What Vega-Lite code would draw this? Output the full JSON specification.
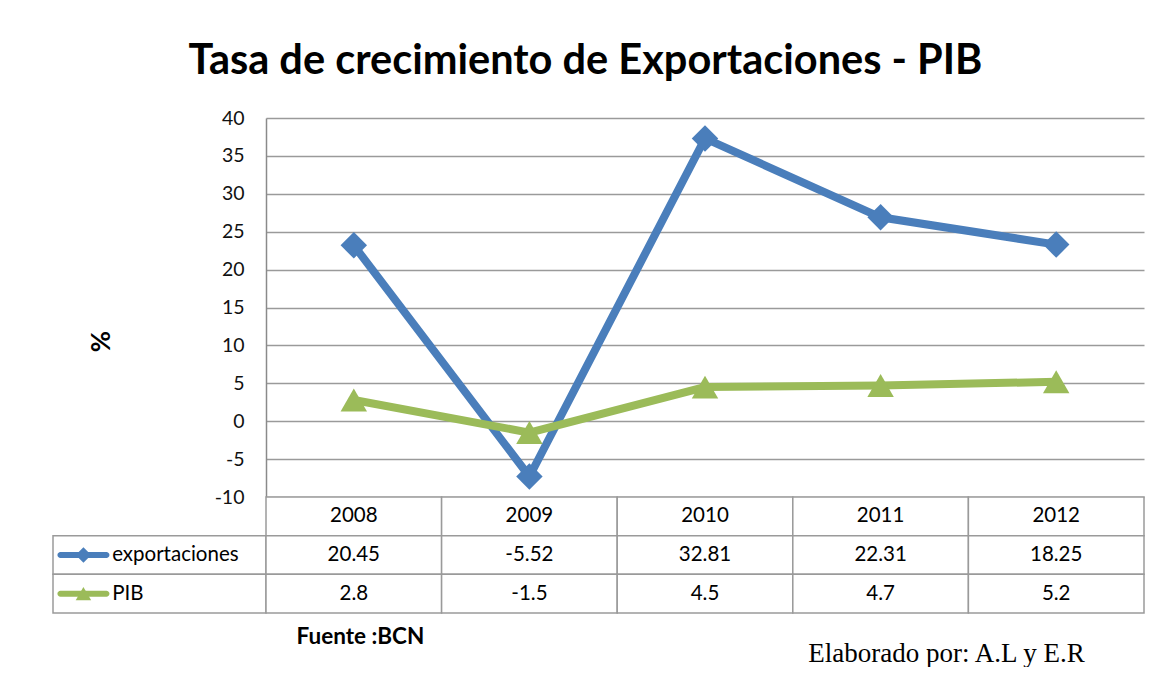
{
  "$schema": "https://vega.github.io/schema/vega-lite/v6.json",
  "autosize": {"type": "pad"},
  "padding": {"left": 52, "top": 40, "right": 13, "bottom": 0},
  "background": "white",
  "config": {"font": "Lato", "view": {"stroke": null}},
  "title": {"text": "Tasa de crecimiento de Exportaciones - PIB", "fontSize": 41.5, "font": "Lato", "fontWeight": "bold", "color": "black", "anchor": "middle", "dx": -13, "offset": 26},
  "columns": 2,
  "spacing": 0,
  "bounds": "flush",
  "align": "each",
  "concat": [
    {
      "width": 213,
      "height": 379,
      "data": {"values": [{"t": ""}]},
      "mark": {"type": "text"},
      "encoding": {"text": {"field": "t"}}
    },
    {
      "width": 878,
      "height": 379,
      "data": {"values": [
        {"año": "2008", "serie": "exportaciones", "valor": 23.2},
        {"año": "2009", "serie": "exportaciones", "valor": -7.3},
        {"año": "2010", "serie": "exportaciones", "valor": 37.3},
        {"año": "2011", "serie": "exportaciones", "valor": 26.9},
        {"año": "2012", "serie": "exportaciones", "valor": 23.3},
        {"año": "2008", "serie": "PIB", "valor": 2.8},
        {"año": "2009", "serie": "PIB", "valor": -1.5},
        {"año": "2010", "serie": "PIB", "valor": 4.5},
        {"año": "2011", "serie": "PIB", "valor": 4.7},
        {"año": "2012", "serie": "PIB", "valor": 5.2}
      ]},
      "encoding": {
        "x": {"field": "año", "type": "ordinal", "scale": {"type": "point", "padding": 0.5}, "axis": null},
        "y": {"field": "valor", "type": "quantitative", "scale": {"domain": [-10, 40], "nice": false, "zero": false},
          "axis": {"values": [-10, -5, 0, 5, 10, 15, 20, 25, 30, 35, 40], "labelExpr": "'' + datum.value", "grid": true, "gridColor": "#9a9a9a", "gridWidth": 1.5, "domain": true, "domainColor": "#8a8a8a", "domainWidth": 1.5, "ticks": false, "labelPadding": 22, "labelFontSize": 19.5, "labelColor": "#111111", "labelFont": "Lato", "title": "%", "titleFontSize": 26, "titleFontWeight": "bold", "titleColor": "black", "titleX": -165, "titleY": 223, "titleAngle": -90, "titleAlign": "center", "titleBaseline": "middle"}},
        "color": {"field": "serie", "type": "nominal", "scale": {"domain": ["exportaciones", "PIB"], "range": ["#4A7EBB", "#9BBB59"]}, "legend": null}
      },
      "layer": [
        {"mark": {"type": "line", "strokeWidth": 8}},
        {"mark": {"type": "point", "filled": true, "opacity": 1, "size": 700},
          "encoding": {"shape": {"field": "serie", "type": "nominal", "scale": {"domain": ["exportaciones", "PIB"], "range": ["diamond", "triangle-up"]}, "legend": null}}}
      ]
    },
    {
      "width": 213,
      "height": 116,
      "data": {"values": [{"serie": "exportaciones"}, {"serie": "PIB"}]},
      "encoding": {
        "y": {"field": "serie", "type": "nominal", "scale": {"domain": ["año", "exportaciones", "PIB"], "paddingInner": 0, "paddingOuter": 0}, "axis": null}
      },
      "layer": [
        {"mark": {"type": "rect", "fill": "white", "stroke": "#9a9a9a", "strokeWidth": 1.5}},
        {"mark": {"type": "tick", "orient": "horizontal", "size": 52, "thickness": 6, "cornerRadius": 3, "opacity": 1},
          "encoding": {
            "x": {"datum": "clave", "type": "nominal", "scale": {"domain": ["clave", "n1", "n2", "n3"], "paddingInner": 0, "paddingOuter": 0.1}, "axis": null},
            "color": {"field": "serie", "type": "nominal", "scale": {"domain": ["exportaciones", "PIB"], "range": ["#4A7EBB", "#9BBB59"]}, "legend": null}
          }},
        {"mark": {"type": "point", "filled": true, "opacity": 1, "size": 240},
          "encoding": {
            "x": {"datum": "clave", "type": "nominal"},
            "color": {"field": "serie", "type": "nominal", "legend": null},
            "shape": {"field": "serie", "type": "nominal", "scale": {"domain": ["exportaciones", "PIB"], "range": ["diamond", "triangle-up"]}, "legend": null}
          }},
        {"mark": {"type": "text", "align": "left", "dx": -22, "fontSize": 20.5, "color": "black", "font": "Lato"},
          "encoding": {
            "x": {"datum": "n1", "type": "nominal"},
            "text": {"field": "serie"}
          }}
      ]
    },
    {
      "width": 878,
      "height": 116,
      "data": {"values": [
        {"año": "2008", "fila": "año", "texto": "2008"},
        {"año": "2009", "fila": "año", "texto": "2009"},
        {"año": "2010", "fila": "año", "texto": "2010"},
        {"año": "2011", "fila": "año", "texto": "2011"},
        {"año": "2012", "fila": "año", "texto": "2012"},
        {"año": "2008", "fila": "exportaciones", "texto": "20.45"},
        {"año": "2009", "fila": "exportaciones", "texto": "-5.52"},
        {"año": "2010", "fila": "exportaciones", "texto": "32.81"},
        {"año": "2011", "fila": "exportaciones", "texto": "22.31"},
        {"año": "2012", "fila": "exportaciones", "texto": "18.25"},
        {"año": "2008", "fila": "PIB", "texto": "2.8"},
        {"año": "2009", "fila": "PIB", "texto": "-1.5"},
        {"año": "2010", "fila": "PIB", "texto": "4.5"},
        {"año": "2011", "fila": "PIB", "texto": "4.7"},
        {"año": "2012", "fila": "PIB", "texto": "5.2"}
      ]},
      "title": {"text": "Elaborado por: A.L y E.R", "orient": "bottom", "anchor": "end", "font": "Liberation Serif", "fontSize": 27, "fontWeight": "normal", "color": "black", "dx": -60, "dy": -7, "offset": 0},
      "encoding": {
        "x": {"field": "año", "type": "ordinal", "scale": {"paddingInner": 0, "paddingOuter": 0},
          "axis": {"labels": false, "ticks": false, "domain": false, "grid": false, "title": "Fuente :BCN", "titleFont": "Lato", "titleFontSize": 22.5, "titleFontWeight": "bold", "titleColor": "black", "titleAnchor": "start", "titleAlign": "left", "titleX": 30, "titleY": 30, "titleBaseline": "alphabetic"}},
        "y": {"field": "fila", "type": "nominal", "scale": {"domain": ["año", "exportaciones", "PIB"], "paddingInner": 0, "paddingOuter": 0}, "axis": null}
      },
      "layer": [
        {"mark": {"type": "rect", "fill": "white", "stroke": "#9a9a9a", "strokeWidth": 1.5}},
        {"mark": {"type": "text", "fontSize": 20.5, "color": "black", "font": "Lato"}, "encoding": {"text": {"field": "texto"}}}
      ]
    }
  ]
}
